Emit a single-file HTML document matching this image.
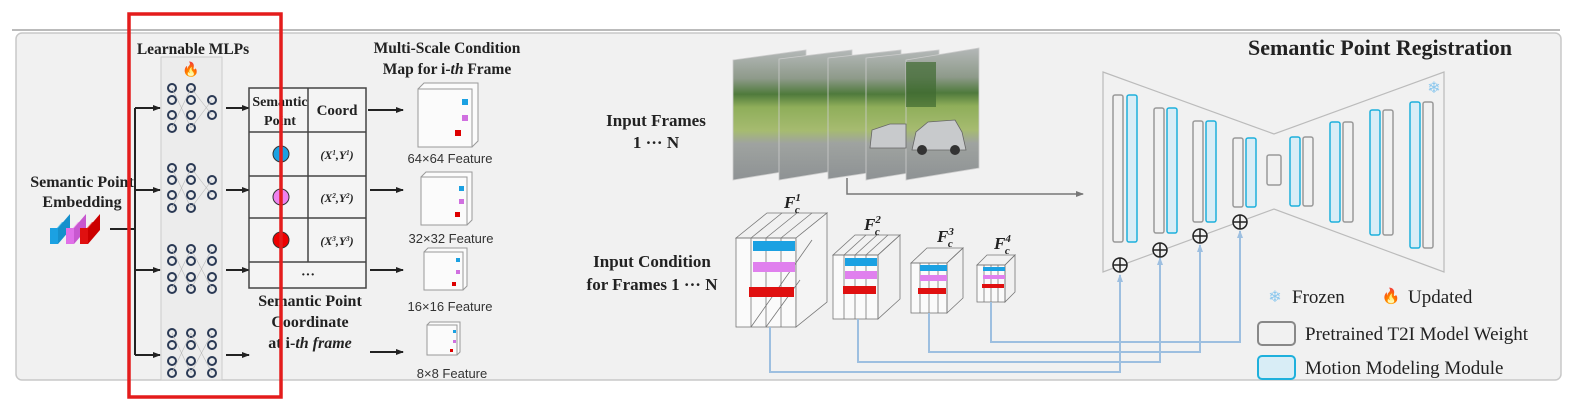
<!DOCTYPE html>
<html><head><meta charset="utf-8"><style>
html,body{margin:0;padding:0;background:#fff;}
svg{display:block;}
.t{font-family:"Liberation Serif",serif;font-weight:bold;fill:#222;}
.s{font-family:"Liberation Sans",sans-serif;fill:#333;}
</style></head><body>
<svg width="1580" height="414" viewBox="0 0 1580 414" xmlns="http://www.w3.org/2000/svg">
<defs>
<marker id="ah" markerWidth="8" markerHeight="8" refX="7" refY="4" orient="auto" markerUnits="userSpaceOnUse"><path d="M0,1 L8,4 L0,7z" fill="#222"/></marker>
<marker id="ag" markerWidth="8" markerHeight="8" refX="7" refY="4" orient="auto" markerUnits="userSpaceOnUse"><path d="M0,1 L8,4 L0,7z" fill="#777"/></marker>
<marker id="ab" markerWidth="8" markerHeight="8" refX="7" refY="4" orient="auto" markerUnits="userSpaceOnUse"><path d="M0,1 L8,4 L0,7z" fill="#9dbfe0"/></marker>
<linearGradient id="ph" x1="0" y1="0" x2="0" y2="1">
<stop offset="0" stop-color="#b4b8b8"/><stop offset="0.22" stop-color="#8e9a8a"/><stop offset="0.34" stop-color="#4f7a3c"/><stop offset="0.44" stop-color="#8fae5a"/><stop offset="0.62" stop-color="#a6bb70"/><stop offset="0.72" stop-color="#9fa3a0"/><stop offset="1" stop-color="#8e9294"/></linearGradient>
</defs>
<line x1="12" y1="30" x2="1560" y2="30" stroke="#bbb" stroke-width="2"/>
<rect x="16" y="33" width="1545" height="347" rx="6" fill="#f1f1f1" stroke="#c8c8c8" stroke-width="1.5"/>

<!-- left -->
<text class="t" x="82" y="187" font-size="16" text-anchor="middle">Semantic Point</text>
<text class="t" x="82" y="207" font-size="16" text-anchor="middle">Embedding</text>
<g>
<polygon points="50,236 62,222 70,222 58,236" fill="#5cc6f0"/><rect x="50" y="228" width="8" height="16" fill="#1ba1e2"/><polygon points="58,228 70,214 70,230 58,244" fill="#1590cc"/>
<polygon points="66,236 78,222 86,222 74,236" fill="#f3a8f3"/><rect x="66" y="228" width="8" height="16" fill="#e070e8"/><polygon points="74,228 86,214 86,230 74,244" fill="#c858d0"/>
<polygon points="80,236 92,222 100,222 88,236" fill="#f06060"/><rect x="80" y="228" width="8" height="16" fill="#e01010"/><polygon points="88,228 100,214 100,230 88,244" fill="#c00"/>
</g>
<line x1="110" y1="229" x2="135" y2="229" stroke="#222" stroke-width="2"/>
<line x1="135" y1="108" x2="135" y2="355" stroke="#222" stroke-width="2"/>
<g stroke="#222" stroke-width="2" marker-end="url(#ah)">
<line x1="135" y1="108" x2="160" y2="108"/><line x1="135" y1="190" x2="160" y2="190"/><line x1="135" y1="270" x2="160" y2="270"/><line x1="135" y1="355" x2="160" y2="355"/>
<line x1="226" y1="108" x2="249" y2="108"/><line x1="226" y1="190" x2="249" y2="190"/><line x1="226" y1="270" x2="249" y2="270"/><line x1="226" y1="355" x2="249" y2="355"/>
<line x1="368" y1="110" x2="403" y2="110"/><line x1="370" y1="190" x2="403" y2="190"/><line x1="370" y1="270" x2="403" y2="270"/><line x1="370" y1="352" x2="403" y2="352"/>
</g>

<text class="t" x="193" y="54" font-size="15.5" text-anchor="middle">Learnable MLPs</text>
<rect x="161" y="57" width="61" height="323" fill="#ececec" stroke="#ccc"/>
<text x="191" y="74" font-size="14" text-anchor="middle">🔥</text>
<g fill="none" stroke="#2b3a55" stroke-width="2">
<g id="n1"><circle cx="172" cy="88" r="4"/><circle cx="172" cy="100" r="4"/><circle cx="172" cy="115" r="4"/><circle cx="172" cy="128" r="4"/>
<circle cx="191" cy="88" r="4"/><circle cx="191" cy="100" r="4"/><circle cx="191" cy="115" r="4"/><circle cx="191" cy="128" r="4"/>
<circle cx="212" cy="100" r="4"/><circle cx="212" cy="115" r="4"/></g>
<use href="#n1" transform="translate(0,80)"/>
<g id="n3"><circle cx="172" cy="249" r="4"/><circle cx="172" cy="261" r="4"/><circle cx="172" cy="277" r="4"/><circle cx="172" cy="289" r="4"/>
<circle cx="191" cy="249" r="4"/><circle cx="191" cy="261" r="4"/><circle cx="191" cy="277" r="4"/><circle cx="191" cy="289" r="4"/>
<circle cx="212" cy="249" r="4"/><circle cx="212" cy="261" r="4"/><circle cx="212" cy="277" r="4"/><circle cx="212" cy="289" r="4"/></g>
<use href="#n3" transform="translate(0,84)"/>
</g>
<g stroke="#bbb" stroke-width="0.6">
<line x1="172" y1="88" x2="191" y2="128"/><line x1="172" y1="128" x2="191" y2="88"/><line x1="191" y1="88" x2="212" y2="115"/><line x1="191" y1="128" x2="212" y2="100"/>
<line x1="172" y1="168" x2="191" y2="208"/><line x1="172" y1="208" x2="191" y2="168"/><line x1="191" y1="168" x2="212" y2="195"/><line x1="191" y1="208" x2="212" y2="180"/>
<line x1="172" y1="249" x2="191" y2="289"/><line x1="172" y1="289" x2="191" y2="249"/><line x1="191" y1="249" x2="212" y2="289"/><line x1="191" y1="289" x2="212" y2="249"/>
<line x1="172" y1="333" x2="191" y2="373"/><line x1="172" y1="373" x2="191" y2="333"/><line x1="191" y1="333" x2="212" y2="373"/><line x1="191" y1="373" x2="212" y2="333"/>
</g>

<!-- table -->
<rect x="249" y="88" width="117" height="200" fill="#f4f4f4" stroke="#444" stroke-width="1.5"/>
<g stroke="#444" stroke-width="1.5">
<line x1="308" y1="88" x2="308" y2="262"/>
<line x1="249" y1="132" x2="366" y2="132"/><line x1="249" y1="176" x2="366" y2="176"/><line x1="249" y1="218" x2="366" y2="218"/><line x1="249" y1="262" x2="366" y2="262"/>
</g>
<text class="t" x="280" y="106" font-size="14" text-anchor="middle">Semantic</text>
<text class="t" x="280" y="125" font-size="14" text-anchor="middle">Point</text>
<text class="t" x="337" y="115" font-size="15" text-anchor="middle">Coord</text>
<circle cx="281" cy="154" r="8" fill="#1ba1e2" stroke="#333"/>
<circle cx="281" cy="197" r="8" fill="#ee82ee" stroke="#333"/>
<circle cx="281" cy="240" r="8" fill="#e00" stroke="#333"/>
<g class="t" font-size="12" font-style="italic" text-anchor="middle">
<text x="337" y="159">(X<tspan font-size="7" dy="-4">1</tspan><tspan dy="4">,Y</tspan><tspan font-size="7" dy="-4">1</tspan><tspan dy="4">)</tspan></text>
<text x="337" y="202">(X<tspan font-size="7" dy="-4">2</tspan><tspan dy="4">,Y</tspan><tspan font-size="7" dy="-4">2</tspan><tspan dy="4">)</tspan></text>
<text x="337" y="245">(X<tspan font-size="7" dy="-4">3</tspan><tspan dy="4">,Y</tspan><tspan font-size="7" dy="-4">3</tspan><tspan dy="4">)</tspan></text>
</g>
<text class="t" x="308" y="279" font-size="14" text-anchor="middle">···</text>
<text class="t" x="310" y="306" font-size="16" text-anchor="middle">Semantic Point</text>
<text class="t" x="310" y="327" font-size="16" text-anchor="middle">Coordinate</text>
<text class="t" x="310" y="348" font-size="16" text-anchor="middle">at i-<tspan font-style="italic">th frame</tspan></text>

<text class="t" x="447" y="53" font-size="15.5" text-anchor="middle">Multi-Scale Condition</text>
<text class="t" x="447" y="74" font-size="15.5" text-anchor="middle">Map for i-<tspan font-style="italic">th</tspan> Frame</text>
<g fill="#fbfbfb" stroke="#999" stroke-width="1">
<polygon points="418,89 424,83 478,83 478,141 472,147 418,147"/><rect x="418" y="89" width="54" height="58"/>
<polygon points="421,177 426,172 472,172 472,220 467,225 421,225"/><rect x="421" y="177" width="46" height="48"/>
<polygon points="424,252 428,248 467,248 467,286 463,290 424,290"/><rect x="424" y="252" width="39" height="38"/>
<polygon points="427,325 430,322 460,322 460,352 457,355 427,355"/><rect x="427" y="325" width="30" height="30"/>
</g>
<rect x="462" y="99" width="6" height="6" fill="#1ba1e2"/><rect x="462" y="115" width="6" height="6" fill="#d070e0"/><rect x="455" y="130" width="6" height="6" fill="#d00"/>
<rect x="459" y="186" width="5" height="5" fill="#1ba1e2"/><rect x="459" y="199" width="5" height="5" fill="#d070e0"/><rect x="455" y="212" width="5" height="5" fill="#d00"/>
<rect x="456" y="258" width="4" height="4" fill="#1ba1e2"/><rect x="456" y="270" width="4" height="4" fill="#d070e0"/><rect x="452" y="282" width="4" height="4" fill="#d00"/>
<rect x="453" y="330" width="3" height="3" fill="#1ba1e2"/><rect x="453" y="340" width="3" height="3" fill="#d070e0"/><rect x="450" y="349" width="3" height="3" fill="#d00"/>
<g class="s" font-size="13" text-anchor="middle">
<text x="450" y="163">64×64 Feature</text><text x="451" y="243">32×32 Feature</text><text x="450" y="311">16×16 Feature</text><text x="452" y="378">8×8 Feature</text>
</g>

<!-- middle -->
<text class="t" x="656" y="126" font-size="17" text-anchor="middle">Input Frames</text>
<text class="t" x="656" y="148" font-size="17" text-anchor="middle">1 ··· N</text>
<g stroke="#ccc" stroke-width="0.8" fill="url(#ph)">
<polygon points="733,60 806,50 806,168 733,180"/>
<polygon points="779,59 852,50 852,168 779,180"/>
<polygon points="828,58 901,50 901,168 828,179"/>
<polygon points="866,58 939,50 939,168 866,180"/>
<polygon points="906,60 979,48 979,168 906,180"/>
</g>
<rect x="906" y="62" width="30" height="45" fill="#3f6a30" opacity="0.7"/>
<g fill="#c8cacc" stroke="#666" stroke-width="0.8"><path d="M912,150 L916,132 L928,122 L955,120 L962,132 L966,150 Z"/><path d="M870,148 L872,130 L890,124 L906,124 L906,148 Z"/></g>
<circle cx="922" cy="150" r="5" fill="#333"/><circle cx="955" cy="150" r="5" fill="#333"/>
<polyline points="847,178 847,194 1083,194" fill="none" stroke="#777" stroke-width="1.5" marker-end="url(#ag)"/>

<text class="t" x="652" y="267" font-size="17" text-anchor="middle">Input Condition</text>
<text class="t" x="652" y="290" font-size="17" text-anchor="middle">for Frames 1 ··· N</text>
<g fill="none" stroke="#777" stroke-width="0.8">
<rect x="736" y="238" width="60" height="89" fill="#fafafa"/>
<polygon points="736,238 767,213 827,213 796,238"/><polygon points="796,238 827,213 827,302 796,327" fill="#f4f4f4"/>
<line x1="751" y1="238" x2="751" y2="327"/><line x1="766" y1="238" x2="766" y2="327"/><line x1="781" y1="238" x2="781" y2="327"/>
<line x1="751" y1="238" x2="782" y2="213"/><line x1="766" y1="238" x2="797" y2="213"/><line x1="781" y1="238" x2="812" y2="213"/>
<line x1="751" y1="327" x2="812" y2="240"/><line x1="766" y1="327" x2="800" y2="280"/>
</g>
<rect x="753" y="241" width="42" height="10" fill="#1ba1e2"/>
<rect x="753" y="262" width="42" height="10" fill="#e080ee"/>
<rect x="749" y="287" width="45" height="10" fill="#e01010"/>
<g fill="none" stroke="#777" stroke-width="0.8">
<rect x="833" y="255" width="45" height="64" fill="#fafafa"/>
<polygon points="833,255 855,235 900,235 878,255"/><polygon points="878,255 900,235 900,299 878,319"/>
<line x1="844" y1="255" x2="844" y2="319"/><line x1="855" y1="255" x2="855" y2="319"/><line x1="866" y1="255" x2="866" y2="319"/>
<line x1="844" y1="255" x2="866" y2="235"/><line x1="855" y1="255" x2="877" y2="235"/><line x1="866" y1="255" x2="888" y2="235"/>
</g>
<rect x="845" y="258" width="32" height="8" fill="#1ba1e2"/><rect x="845" y="271" width="32" height="8" fill="#e080ee"/><rect x="843" y="286" width="33" height="8" fill="#e01010"/>
<g fill="none" stroke="#777" stroke-width="0.8">
<rect x="911" y="263" width="36" height="50" fill="#fafafa"/>
<polygon points="911,263 927,248 963,248 947,263"/><polygon points="947,263 963,248 963,298 947,313"/>
<line x1="920" y1="263" x2="920" y2="313"/><line x1="929" y1="263" x2="929" y2="313"/><line x1="938" y1="263" x2="938" y2="313"/>
</g>
<rect x="920" y="265" width="27" height="6" fill="#1ba1e2"/><rect x="920" y="275" width="27" height="6" fill="#e080ee"/><rect x="918" y="288" width="28" height="6" fill="#e01010"/>
<g fill="none" stroke="#777" stroke-width="0.8">
<rect x="977" y="265" width="28" height="37" fill="#fafafa"/>
<polygon points="977,265 987,255 1015,255 1005,265"/><polygon points="1005,265 1015,255 1015,292 1005,302"/>
<line x1="984" y1="265" x2="984" y2="302"/><line x1="991" y1="265" x2="991" y2="302"/><line x1="998" y1="265" x2="998" y2="302"/>
</g>
<rect x="983" y="267" width="22" height="4" fill="#1ba1e2"/><rect x="983" y="275" width="22" height="4" fill="#e080ee"/><rect x="982" y="284" width="22" height="4" fill="#e01010"/>
<g class="t" font-size="17" font-style="italic">
<text x="784" y="208">F<tspan font-size="11" dy="-7">1</tspan><tspan font-size="11" dx="-6" dy="12">c</tspan></text>
<text x="864" y="230">F<tspan font-size="11" dy="-7">2</tspan><tspan font-size="11" dx="-6" dy="12">c</tspan></text>
<text x="937" y="242">F<tspan font-size="11" dy="-7">3</tspan><tspan font-size="11" dx="-6" dy="12">c</tspan></text>
<text x="994" y="249">F<tspan font-size="11" dy="-7">4</tspan><tspan font-size="11" dx="-6" dy="12">c</tspan></text>
</g>
<g fill="none" stroke="#9dbfe0" stroke-width="2" marker-end="url(#ab)">
<polyline points="770,327 770,372 1120,372 1120,275"/>
<polyline points="858,319 858,362 1160,362 1160,258"/>
<polyline points="929,313 929,352 1200,352 1200,245"/>
<polyline points="991,302 991,342 1240,342 1240,231"/>
</g>

<!-- right -->
<text class="t" x="1380" y="55" font-size="22" text-anchor="middle">Semantic Point Registration</text>
<polygon points="1103,72 1274,134 1444,72 1444,272 1274,209 1103,272" fill="none" stroke="#bbb" stroke-width="1.2"/>
<g stroke-width="1.5">
<g fill="#f1f1f1" stroke="#999">
<rect x="1113" y="95" width="10" height="147" rx="2"/><rect x="1154" y="108" width="10" height="125" rx="2"/><rect x="1193" y="121" width="10" height="101" rx="2"/><rect x="1233" y="138" width="10" height="69" rx="2"/>
<rect x="1267" y="155" width="14" height="30" rx="2"/>
<rect x="1303" y="137" width="10" height="69" rx="2"/><rect x="1343" y="122" width="10" height="100" rx="2"/><rect x="1383" y="110" width="10" height="125" rx="2"/><rect x="1423" y="102" width="10" height="146" rx="2"/>
</g>
<g fill="#d8edf6" stroke="#1eb0dc">
<rect x="1127" y="95" width="10" height="147" rx="2"/><rect x="1167" y="108" width="10" height="125" rx="2"/><rect x="1206" y="121" width="10" height="101" rx="2"/><rect x="1246" y="138" width="10" height="69" rx="2"/>
<rect x="1290" y="137" width="10" height="69" rx="2"/><rect x="1330" y="122" width="10" height="100" rx="2"/><rect x="1370" y="110" width="10" height="125" rx="2"/><rect x="1410" y="102" width="10" height="146" rx="2"/>
</g>
</g>
<g fill="#f1f1f1" stroke="#222" stroke-width="1.5">
<circle cx="1120" cy="265" r="7"/><circle cx="1160" cy="250" r="7"/><circle cx="1200" cy="236" r="7"/><circle cx="1240" cy="222" r="7"/>
</g>
<g stroke="#222" stroke-width="1.5">
<path d="M1113,265h14M1120,258v14M1153,250h14M1160,243v14M1193,236h14M1200,229v14M1233,222h14M1240,215v14"/>
</g>
<text x="1434" y="93" font-size="16" fill="#8cc8ee" text-anchor="middle">❄</text>
<text x="1275" y="302" font-size="16" fill="#8cc8ee" text-anchor="middle">❄</text>
<text x="1292" y="303" font-family="Liberation Serif,serif" font-size="19" fill="#222">Frozen</text>
<text x="1391" y="301" font-size="15" text-anchor="middle">🔥</text>
<text x="1408" y="303" font-family="Liberation Serif,serif" font-size="19" fill="#222">Updated</text>
<rect x="1258" y="322" width="37" height="23" rx="4" fill="#f1f1f1" stroke="#888" stroke-width="2"/>
<text x="1305" y="340" font-family="Liberation Serif,serif" font-size="19" fill="#222">Pretrained T2I Model Weight</text>
<rect x="1258" y="356" width="37" height="23" rx="4" fill="#d8edf6" stroke="#1eb0dc" stroke-width="2"/>
<text x="1305" y="374" font-family="Liberation Serif,serif" font-size="19" fill="#222">Motion Modeling Module</text>

<rect x="129" y="14" width="152" height="383" fill="none" stroke="#e41c1c" stroke-width="3.5"/>
</svg>
</body></html>
